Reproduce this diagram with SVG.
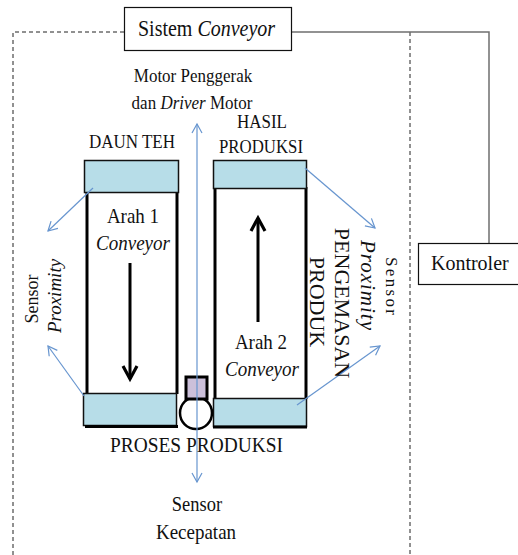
<svg xmlns="http://www.w3.org/2000/svg" width="518" height="555" viewBox="0 0 518 555">
  <style>
    text { font-family: "Liberation Serif", "Times New Roman", serif; fill: #111; }
    .it { font-style: italic; }
    .box { fill: #fff; stroke: #111; stroke-width: 1.2; }
    .belt { fill: #b7dde8; stroke: #111; stroke-width: 1.5; }
    .rail { stroke: #000; stroke-width: 3; fill: none; }
    .dash { stroke: #222; stroke-width: 1; stroke-dasharray: 4 3; fill: none; }
    .wire { stroke: #6f6f6f; stroke-width: 1.5; fill: none; }
    .sig { stroke: #6795cf; stroke-width: 1.2; fill: none; }
    .flow { stroke: #000; stroke-width: 3; fill: none; }
  </style>
  <defs>
    <marker id="openBlue" markerUnits="userSpaceOnUse" markerWidth="12" markerHeight="12" refX="10" refY="6" orient="auto-start-reverse">
      <path d="M1,1 L10,6 L1,11" fill="none" stroke="#6795cf" stroke-width="1.2"/>
    </marker>
    <marker id="openBlack" markerUnits="userSpaceOnUse" markerWidth="20" markerHeight="20" refX="15" refY="10" orient="auto">
      <path d="M2,3 L15,10 L2,17" fill="none" stroke="#000" stroke-width="3.2"/>
    </marker>
  </defs>

  <!-- system boundary and controller wiring -->
  <g id="connectors">
    <path class="dash" d="M124,32 H13 V555"/>
    <path class="dash" d="M410,32 V555"/>
    <path class="wire" d="M292,32 H489 V243"/>
  </g>

  <g id="sistem-conveyor">
    <rect class="box" x="124.5" y="7.5" width="167" height="43"/>
    <text transform="translate(138,36) scale(1,1.12)" font-size="20">Sistem <tspan class="it">Conveyor</tspan></text>
  </g>

  <g id="kontroler">
    <rect class="box" x="418.5" y="243.5" width="105" height="41"/>
    <text transform="translate(431,270) scale(1,1.08)" font-size="20">Kontroler</text>
  </g>

  <g id="motor-label">
    <text transform="translate(193,82) scale(1,1.12)" font-size="17" text-anchor="middle">Motor Penggerak</text>
    <text transform="translate(192,109) scale(1,1.12)" font-size="17" text-anchor="middle">dan <tspan class="it">Driver</tspan> Motor</text>
  </g>

  <g id="labels-top">
    <text transform="translate(89,148) scale(1,1.15)" font-size="17" textLength="86" lengthAdjust="spacingAndGlyphs">DAUN TEH</text>
    <text transform="translate(237,128) scale(1,1.15)" font-size="17">HASIL</text>
    <text transform="translate(219,153) scale(1,1.15)" font-size="17" textLength="84" lengthAdjust="spacingAndGlyphs">PRODUKSI</text>
  </g>

  <!-- conveyor 1: feeds tea leaves downward -->
  <g id="conveyor-1">
    <line class="rail" x1="87" y1="192" x2="87" y2="394"/>
    <line class="rail" x1="177" y1="192" x2="177" y2="394"/>
    <rect class="belt" x="84.5" y="160.5" width="94" height="32"/>
    <rect class="belt" x="83.5" y="393.5" width="93" height="32"/>
    <line class="rail" x1="85" y1="426.5" x2="178" y2="426.5"/>
    <text transform="translate(133,223) scale(1,1.12)" font-size="19" text-anchor="middle">Arah 1</text>
    <text transform="translate(133,250) scale(1,1.12)" font-size="19" class="it" text-anchor="middle">Conveyor</text>
    <line class="flow" x1="130" y1="263" x2="130" y2="379" marker-end="url(#openBlack)"/>
  </g>

  <!-- conveyor 2: carries product upward -->
  <g id="conveyor-2">
    <line class="rail" x1="215" y1="187" x2="215" y2="399"/>
    <line class="rail" x1="306" y1="187" x2="306" y2="399"/>
    <rect class="belt" x="213.5" y="160.5" width="93" height="28"/>
    <rect class="belt" x="213.5" y="398.5" width="93" height="28"/>
    <line class="rail" x1="213" y1="427" x2="307" y2="427"/>
    <text transform="translate(261,349) scale(1,1.12)" font-size="19" text-anchor="middle">Arah 2</text>
    <text transform="translate(262,376) scale(1,1.12)" font-size="19" class="it" text-anchor="middle">Conveyor</text>
    <line class="flow" x1="258" y1="322" x2="258" y2="218" marker-end="url(#openBlack)"/>
  </g>

  <!-- drive roller and motor -->
  <g id="motor">
    <circle cx="196" cy="413" r="16" fill="#fff" stroke="#000" stroke-width="2.5"/>
    <rect x="186" y="377" width="21" height="22" fill="#ccc0da" stroke="#000" stroke-width="3"/>
  </g>

  <g id="signal-lines">
    <line class="sig" x1="197" y1="124" x2="197" y2="482" marker-start="url(#openBlue)" marker-end="url(#openBlue)"/>
    <line class="sig" x1="93" y1="188" x2="48" y2="231" marker-end="url(#openBlue)"/>
    <line class="sig" x1="84" y1="396" x2="48" y2="346" marker-end="url(#openBlue)"/>
    <line class="sig" x1="305" y1="168" x2="375" y2="228" marker-end="url(#openBlue)"/>
    <line class="sig" x1="297" y1="405" x2="380" y2="346" marker-end="url(#openBlue)"/>
  </g>

  <g id="sensor-proximity-left">
    <text transform="translate(38,299) rotate(-90)" font-size="18" text-anchor="middle">Sensor</text>
    <text transform="translate(61,296) rotate(-90)" font-size="19" class="it" text-anchor="middle">Proximity</text>
  </g>

  <g id="sensor-proximity-right">
    <text transform="translate(386,286) rotate(90)" font-size="17" text-anchor="middle" textLength="58" lengthAdjust="spacing">Sensor</text>
    <text transform="translate(361,285) rotate(90)" font-size="21" class="it" text-anchor="middle" textLength="90" lengthAdjust="spacing">Proximity</text>
  </g>

  <g id="pengemasan-label">
    <text transform="translate(335,303) rotate(90)" font-size="22" text-anchor="middle">PENGEMASAN</text>
    <text transform="translate(310,302) rotate(90)" font-size="22" text-anchor="middle">PRODUK</text>
  </g>

  <g id="proses-label">
    <text transform="translate(110,452) scale(1,1.12)" font-size="19" textLength="173" lengthAdjust="spacingAndGlyphs">PROSES PRODUKSI</text>
  </g>

  <g id="sensor-kecepatan">
    <text transform="translate(197,511) scale(1,1.12)" font-size="18.5" text-anchor="middle">Sensor</text>
    <text transform="translate(196,539) scale(1,1.12)" font-size="19" text-anchor="middle">Kecepatan</text>
  </g>
</svg>
